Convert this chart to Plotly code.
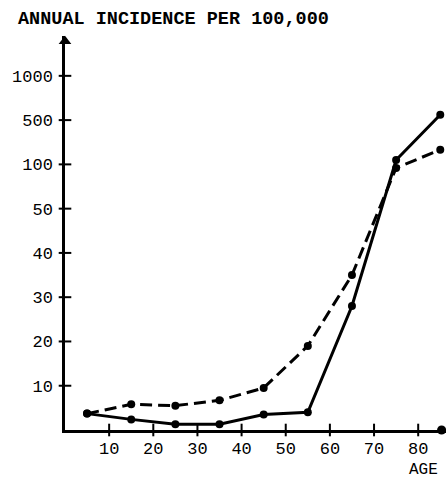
import numpy as np
import plotly.graph_objects as go

# ---- data ----
ages = [5, 15, 25, 35, 45, 55, 65, 75, 85]
incidence_solid = [3.7, 2.4, 1.3, 1.3, 3.5, 4.0, 28, 140, 560]
incidence_dashed = [3.7, 5.8, 5.5, 6.7, 9.5, 19, 35, 96, 232]

y_tick_values = [10, 20, 30, 40, 50, 100, 500, 1000]
y_tick_labels = ["10", "20", "30", "40", "50", "100", "500", "1000"]
x_tick_values = [10, 20, 30, 40, 50, 60, 70, 80]
x_tick_labels = ["10", "20", "30", "40", "50", "60", "70", "80"]

# the original chart's broken (piecewise) vertical scale: equal steps per tick
scale_breaks = [0, 10, 20, 30, 40, 50, 100, 500, 1000]
scale_steps = list(range(len(scale_breaks)))


def to_axis(values):
    return np.interp(values, scale_breaks, scale_steps)


FONT = "Liberation Mono"
Y_TOP = 8.9
X_END = 86.3
W, H = 446, 480

fig = go.Figure()

fig.add_trace(go.Scatter(
    x=ages, y=to_axis(incidence_dashed), mode="lines+markers",
    line=dict(color="black", width=3, dash="12px,6px"),
    marker=dict(color="black", size=8), cliponaxis=False, showlegend=False,
))
fig.add_trace(go.Scatter(
    x=ages, y=to_axis(incidence_solid), mode="lines+markers",
    line=dict(color="black", width=3),
    marker=dict(color="black", size=8), cliponaxis=False, showlegend=False,
))

# cross-shaped tick marks on the axes
fig.add_trace(go.Scatter(
    x=[0] * len(y_tick_values), y=to_axis(y_tick_values), mode="markers",
    marker=dict(symbol="line-ew", size=9, line=dict(color="black", width=2)),
    cliponaxis=False, showlegend=False, hoverinfo="skip",
))
fig.add_trace(go.Scatter(
    x=x_tick_values, y=[0] * len(x_tick_values), mode="markers",
    marker=dict(symbol="line-ns", size=9, line=dict(color="black", width=2)),
    cliponaxis=False, showlegend=False, hoverinfo="skip",
))
# axis ends: arrow at top of y axis, dot at end of x axis
fig.add_trace(go.Scatter(
    x=[0], y=[Y_TOP - 0.12], mode="markers",
    marker=dict(symbol="triangle-up", size=11, color="black"),
    cliponaxis=False, showlegend=False, hoverinfo="skip",
))
fig.add_trace(go.Scatter(
    x=[X_END - 1.0], y=[0], mode="markers",
    marker=dict(symbol="circle", size=9, color="black"),
    cliponaxis=False, showlegend=False, hoverinfo="skip",
))

fig.update_layout(
    width=W, height=H,
    margin=dict(l=65, r=0, t=36, b=50, autoexpand=False),
    paper_bgcolor="white", plot_bgcolor="white",
    font=dict(family=FONT, color="black", size=17),
    title=dict(
        text="<b>ANNUAL INCIDENCE PER 100,000</b>",
        font=dict(family=FONT, size=18.5, color="black"),
        x=18 / W, xanchor="left", xref="container",
        y=1 - 18 / H, yanchor="middle", yref="container",
    ),
    xaxis=dict(
        range=[0, X_END], showline=True, linecolor="black", linewidth=2.5,
        showgrid=False, zeroline=False, ticks="", automargin=False,
        tickvals=x_tick_values, ticktext=x_tick_labels,
        tickfont=dict(family=FONT, size=17), ticklabelstandoff=1,
    ),
    yaxis=dict(
        range=[0, Y_TOP], showline=True, linecolor="black", linewidth=2.5,
        showgrid=False, zeroline=False, ticks="", automargin=False,
        tickvals=list(to_axis(y_tick_values)), ticktext=y_tick_labels,
        tickfont=dict(family=FONT, size=17), ticklabelstandoff=6,
    ),
    annotations=[dict(
        text="AGE", xref="paper", yref="paper", x=0.984, xanchor="right",
        y=-0.102, yanchor="middle", showarrow=False,
        font=dict(family=FONT, size=16, color="black"),
    )],
)

# remove the browser's default 8px page margin so the figure fills the window
fig.write_html(
    "out.html",
    config={"displayModeBar": False},
    post_script="document.body.style.margin='0px';"
                "document.documentElement.style.overflow='hidden';",
)
